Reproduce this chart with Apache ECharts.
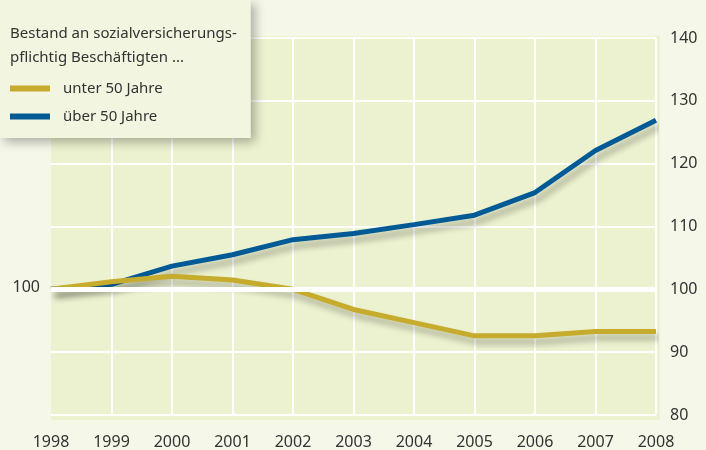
<!DOCTYPE html>
<html lang="de">
<head>
    <meta charset="UTF-8">
    <title>Beschäftigte</title>
    <script src="https://cdn.jsdelivr.net/npm/echarts@6/dist/echarts.min.js"></script>
</head>
<body style="margin:0;background:#f5f7e8;">
    <div id="main" style="width:706px;height:450px;"></div>
</body>
<script type="text/javascript">
    // Daten (Index 1998 = 100)
    var years = ['1998', '1999', '2000', '2001', '2002', '2003', '2004', '2005', '2006', '2007', '2008'];
    var unter50 = [100, 101.2, 102.1, 101.5, 100.0, 96.8, 94.7, 92.6, 92.6, 93.3, 93.3];
    var ueber50 = [100, 100.8, 103.7, 105.5, 107.9, 108.9, 110.3, 111.8, 115.4, 122.1, 126.9];
    var yTicks = [80, 90, 100, 110, 120, 130, 140];

    var gold = '#c6ab2d';
    var blue = '#005a96';
    var font = 'Noto Sans';

    var myChart = echarts.init(document.getElementById('main'));

    var shadow = {
        shadowColor: 'rgba(0,0,0,0.28)',
        shadowBlur: 6,
        shadowOffsetX: 4,
        shadowOffsetY: 6
    };

    var option = {
        backgroundColor: '#f5f7e8',
        animation: false,
        textStyle: { fontFamily: font },
        title: {
            text: 'Bestand an sozialversicherungs-\npflichtig Beschäftigten ...',
            left: 0,
            top: 0,
            padding: [22, 14, 68, 10],
            backgroundColor: '#f2f5e0',
            shadowColor: 'rgba(0,0,0,0.3)',
            shadowBlur: 10,
            shadowOffsetX: 4,
            shadowOffsetY: 4,
            textStyle: {
                fontFamily: font,
                fontSize: 15,
                fontWeight: 'normal',
                color: '#333',
                lineHeight: 24
            },
            z: 10
        },
        legend: {
            orient: 'vertical',
            left: 5,
            top: 76,
            itemWidth: 40,
            itemHeight: 6,
            itemGap: 13,
            icon: 'rect',
            data: ['unter 50 Jahre', 'über 50 Jahre'],
            textStyle: { fontFamily: font, fontSize: 15, color: '#333', padding: [0, 0, 0, 8] },
            z: 11
        },
        graphic: [{
            type: 'rect',
            shape: { x: 51, y: 36, width: 609, height: 384 },
            style: { fill: '#ecf1cf' },
            z: -1
        }],
        grid: { left: 51, right: 50, top: 38, bottom: 34 },
        xAxis: {
            type: 'category',
            data: years,
            boundaryGap: false,
            axisLine: { show: false },
            axisTick: { show: false },
            axisLabel: { fontSize: 16, color: '#333', margin: 19, fontFamily: font },
            splitLine: {
                show: true,
                interval: function (index) { return index > 0; },
                lineStyle: { color: '#ffffff', width: 2 }
            }
        },
        yAxis: [{
            type: 'value',
            position: 'right',
            min: yTicks[0],
            max: yTicks[yTicks.length - 1],
            interval: 10,
            axisLine: { show: false },
            axisTick: { show: false },
            axisLabel: { fontSize: 16, color: '#333', margin: 14, fontFamily: font },
            splitLine: { lineStyle: { color: '#ffffff', width: 2 } }
        }, {
            type: 'value',
            position: 'left',
            min: yTicks[0],
            max: yTicks[yTicks.length - 1],
            interval: 10,
            axisLine: { show: false },
            axisTick: { show: false },
            splitLine: { show: false },
            axisLabel: {
                fontSize: 16, color: '#333', margin: 11, fontFamily: font,
                verticalAlign: 'bottom', padding: [0, 0, -6, 0],
                formatter: function (v) { return v === 100 ? '100' : ''; }
            }
        }],
        series: [{
            type: 'line',
            data: [],
            z: 1,
            silent: true,
            markLine: {
                silent: true,
                symbol: 'none',
                label: { show: false },
                lineStyle: { color: '#ffffff', width: 5, type: 'solid' },
                data: [{ yAxis: 100 }]
            }
        }, {
            name: 'über 50 Jahre',
            type: 'line',
            data: ueber50,
            symbol: 'none',
            color: blue,
            z: 3,
            lineStyle: Object.assign({ color: blue, width: 5 }, shadow)
        }, {
            name: 'unter 50 Jahre',
            type: 'line',
            data: unter50,
            symbol: 'none',
            color: gold,
            z: 4,
            lineStyle: Object.assign({ color: gold, width: 5 }, shadow)
        }]
    };

    myChart.setOption(option);
</script>
</html>
